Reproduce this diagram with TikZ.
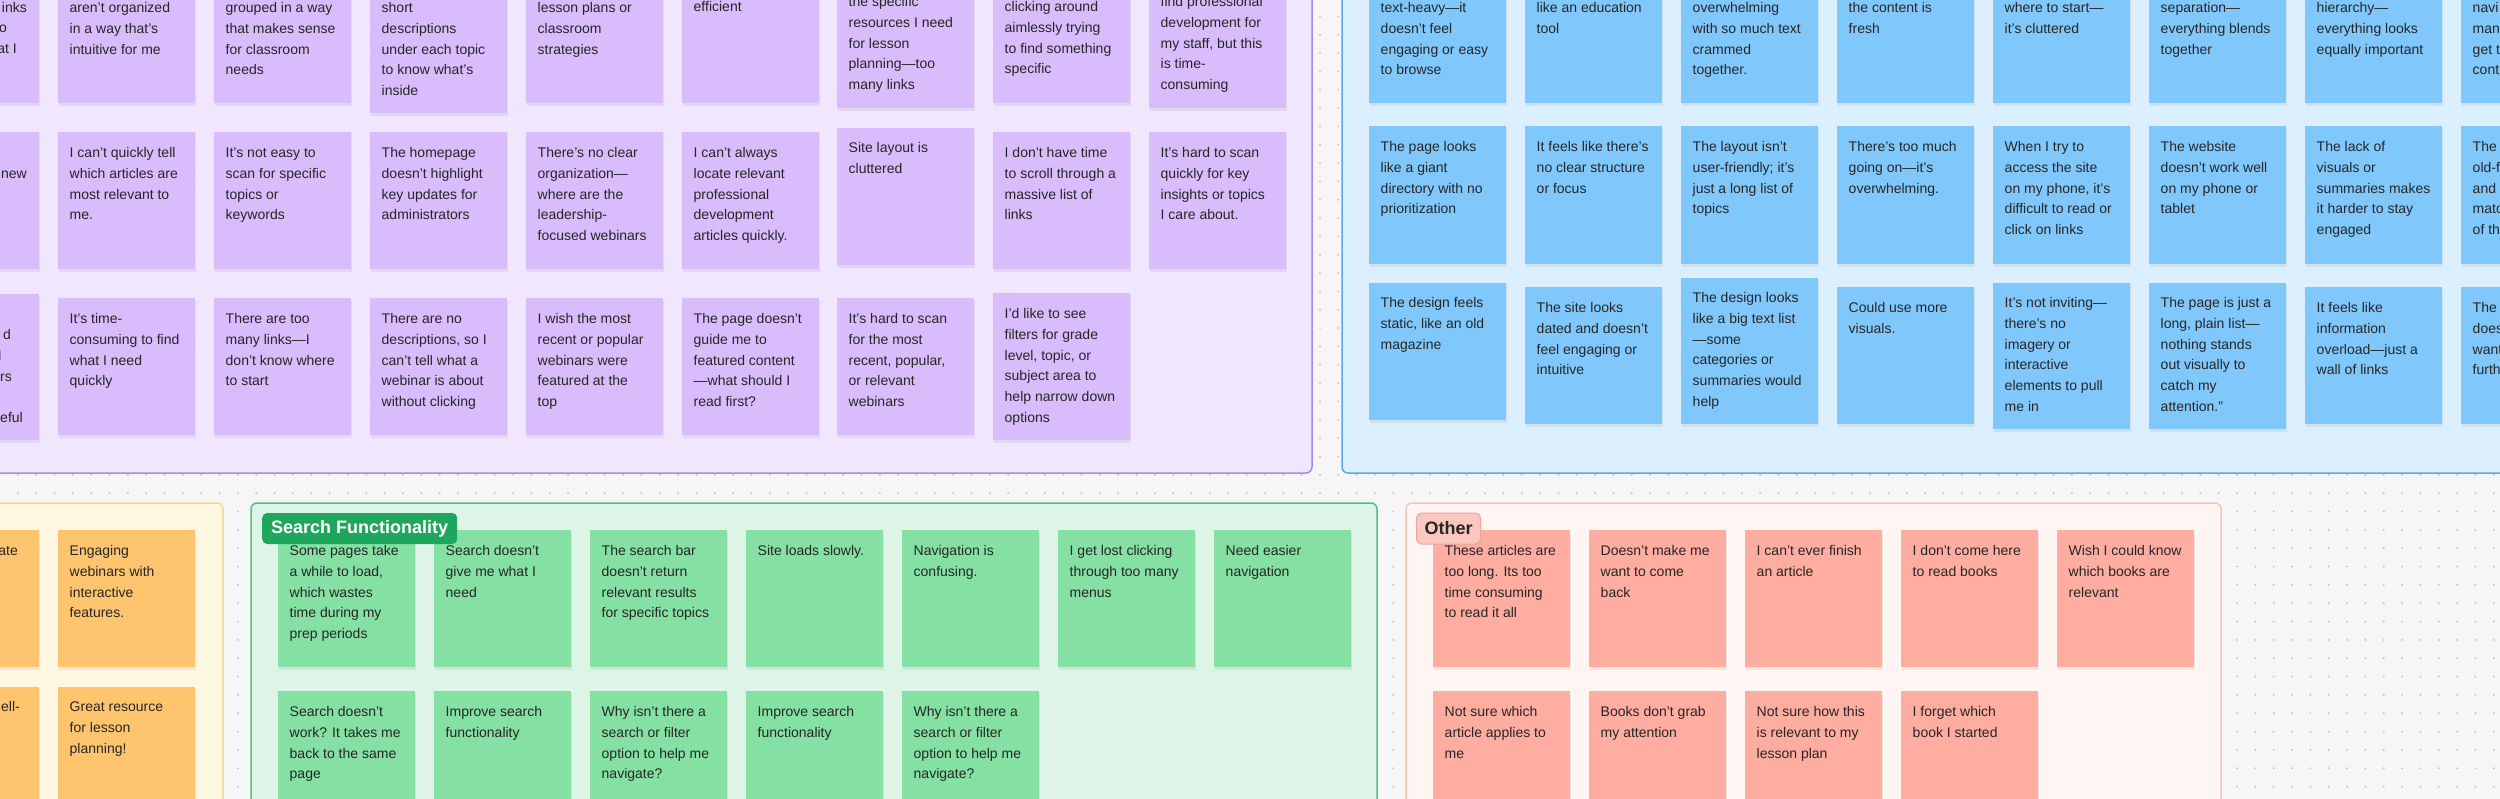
\documentclass[tikz,border=0pt]{standalone}
\usepackage{fontspec}
\setmainfont{Liberation Sans}
\definecolor{bgc}{HTML}{F6F6F6}
\definecolor{dotc}{HTML}{C4C4C4}
\definecolor{textc}{HTML}{262626}
\definecolor{psec}{HTML}{F0E6FE}
\definecolor{pbrd}{HTML}{A58AF0}
\definecolor{pst}{HTML}{D9BCFB}
\definecolor{bsec}{HTML}{DCEFFF}
\definecolor{bbrd}{HTML}{5AA9E6}
\definecolor{bst}{HTML}{80C8FC}
\definecolor{ysec}{HTML}{FFF7E2}
\definecolor{ybrd}{HTML}{F5D982}
\definecolor{yst}{HTML}{FEC56E}
\definecolor{gsec}{HTML}{DEF4E6}
\definecolor{gbrd}{HTML}{4FC182}
\definecolor{gst}{HTML}{85E0A3}
\definecolor{glab}{HTML}{1EA65C}
\definecolor{osec}{HTML}{FFF5F2}
\definecolor{obrd}{HTML}{F9C3BB}
\definecolor{ost}{HTML}{FEADA0}
\definecolor{olab}{HTML}{FCC7C0}
\definecolor{olabbrd}{HTML}{EBA59C}
\tikzset{
  note/.style={anchor=north west, inner sep=0pt, minimum width=137pt, draw=none},
  txt/.style={anchor=north west, inner sep=0pt, align=left, text=textc,
    font=\fontsize{14pt}{20.67pt}\selectfont},
  frag/.style={anchor=base east, inner sep=0pt, text=textc,
    font=\fontsize{14pt}{20.67pt}\selectfont},
  section/.style={line width=1.5pt, rounded corners=6pt},
  lab/.style={anchor=west, inner xsep=9pt, inner ysep=0pt, minimum height=31pt,
    rounded corners=5pt, font=\bfseries\fontsize{18pt}{20pt}\selectfont},
  shadowbox/.style={fill=black, opacity=0.06}
}
\newcommand{\sticky}[7]{%
  \fill[shadowbox] (#3+1,#4+2) rectangle (#3+138,#5+3);
  \node[note, fill=#2, minimum height={(#5-(#4))*1pt}] (#1) at (#3,#4) {};
  \node[txt] (#1t) at (#3+11.5,#6-10.4) {\rule{0pt}{14pt}#7};
}
\begin{document}
\begin{tikzpicture}[x=1pt,y=-1pt]
\useasboundingbox (0,0) rectangle (2500,799);
\clip (0,0) rectangle (2500,799);
\fill[bgc] (0,0) rectangle (2500,799);
\foreach \i in {0,...,136}{\foreach \j in {0,...,43}{\fill[dotc] ({-0.5+18.34*\i},{-2+18.34*\j}) circle (1.1pt);}}

% sections
\draw[section, fill=psec, draw=pbrd] (-30,-30) rectangle (1312,473);
\draw[section, fill=bsec, draw=bbrd] (1342,-30) rectangle (2540,473);
\draw[section, fill=ysec, draw=ybrd] (-30,503) rectangle (223,840);
\draw[section, fill=gsec, draw=gbrd] (251,503) rectangle (1377,840);
\draw[section, fill=osec, draw=obrd] (1406,503) rectangle (2221,840);

% purple row 1
\sticky{pA1}{pst}{-98}{-200}{103}{9}{}
\sticky{pB1}{pst}{58}{-200}{103}{9}{aren't organized\\in a way that's\\intuitive for me}
\sticky{pC1}{pst}{214}{-200}{103}{9}{grouped in a way\\that makes sense\\for classroom\\needs}
\sticky{pD1}{pst}{370}{-200}{113}{9}{short\\descriptions\\under each topic\\to know what's\\inside}
\sticky{pE1}{pst}{526}{-200}{103}{9}{lesson plans or\\classroom\\strategies}
\sticky{pF1}{pst}{682}{-200}{103}{8}{efficient}
\sticky{pG1}{pst}{837}{-200}{108}{3}{the specific\\resources I need\\for lesson\\planning---too\\many links}
\sticky{pH1}{pst}{993}{-200}{103}{8}{clicking around\\aimlessly trying\\to find something\\specific}
\sticky{pI1}{pst}{1149}{-200}{108}{3}{find professional\\development for\\my staff, but this\\is time-\\consuming}
% purple row 2
\sticky{pA2}{pst}{-98}{132}{269}{154}{}
\sticky{pB2}{pst}{58}{132}{269}{154}{I can't quickly tell\\which articles are\\most relevant to\\me.}
\sticky{pC2}{pst}{214}{132}{269}{154}{It's not easy to\\scan for specific\\topics or\\keywords}
\sticky{pD2}{pst}{370}{132}{269}{154}{The homepage\\doesn't highlight\\key updates for\\administrators}
\sticky{pE2}{pst}{526}{132}{269}{154}{There's no clear\\organization---\\where are the\\leadership-\\focused webinars}
\sticky{pF2}{pst}{682}{132}{269}{154}{I can't always\\locate relevant\\professional\\development\\articles quickly.}
\sticky{pG2}{pst}{837}{128}{265}{149}{Site layout is\\cluttered}
\sticky{pH2}{pst}{993}{132}{269}{154}{I don't have time\\to scroll through a\\massive list of\\links}
\sticky{pI2}{pst}{1149}{132}{269}{154}{It's hard to scan\\quickly for key\\insights or topics\\I care about.}
% purple row 3
\sticky{pA3}{pst}{-98}{294}{440}{316}{}
\sticky{pB3}{pst}{58}{298}{435}{320}{It's time-\\consuming to find\\what I need\\quickly}
\sticky{pC3}{pst}{214}{298}{435}{320}{There are too\\many links---I\\don't know where\\to start}
\sticky{pD3}{pst}{370}{298}{435}{320}{There are no\\descriptions, so I\\can't tell what a\\webinar is about\\without clicking}
\sticky{pE3}{pst}{526}{298}{435}{320}{I wish the most\\recent or popular\\webinars were\\featured at the\\top}
\sticky{pF3}{pst}{682}{298}{435}{320}{The page doesn't\\guide me to\\featured content\\---what should I\\read first?}
\sticky{pG3}{pst}{837}{298}{435}{320}{It's hard to scan\\for the most\\recent, popular,\\or relevant\\webinars}
\sticky{pH3}{pst}{993}{293}{440}{315}{I'd like to see\\filters for grade\\level, topic, or\\subject area to\\help narrow down\\options}
% purple partial column fragments
\node[frag] (fa1) at (27,9+3.6) {inks};
\node[frag] (fa2) at (7,29+3.6) {o};
\node[frag] (fa3) at (17,50+3.6) {at I};
\node[frag] (fa4) at (27,175+3.6) {new};
\node[frag] (fa5) at (11,336+3.6) {d};
\node[frag] (fa6) at (2,357+3.6) {I};
\node[frag] (fa7) at (12,378+3.6) {rs};
\node[frag] (fa8) at (23,419+3.6) {eful};

% blue row 1
\sticky{bA1}{bst}{1369}{-200}{103}{9}{text-heavy---it\\doesn't feel\\engaging or easy\\to browse}
\sticky{bB1}{bst}{1525}{-200}{103}{9}{like an education\\tool}
\sticky{bC1}{bst}{1681}{-200}{103}{9}{overwhelming\\with so much text\\crammed\\together.}
\sticky{bD1}{bst}{1837}{-200}{103}{9}{the content is\\fresh}
\sticky{bE1}{bst}{1993}{-200}{103}{9}{where to start---\\it's cluttered}
\sticky{bF1}{bst}{2149}{-200}{103}{9}{separation---\\everything blends\\together}
\sticky{bG1}{bst}{2305}{-200}{103}{9}{hierarchy---\\everything looks\\equally important}
\sticky{bH1}{bst}{2461}{-200}{103}{9}{navi\\man\\get t\\cont}
% blue row 2
\sticky{bA2}{bst}{1369}{126}{264}{148}{The page looks\\like a giant\\directory with no\\prioritization}
\sticky{bB2}{bst}{1525}{126}{264}{148}{It feels like there's\\no clear structure\\or focus}
\sticky{bC2}{bst}{1681}{126}{264}{148}{The layout isn't\\user-friendly; it's\\just a long list of\\topics}
\sticky{bD2}{bst}{1837}{126}{264}{148}{There's too much\\going on---it's\\overwhelming.}
\sticky{bE2}{bst}{1993}{126}{264}{148}{When I try to\\access the site\\on my phone, it's\\difficult to read or\\click on links}
\sticky{bF2}{bst}{2149}{126}{264}{148}{The website\\doesn't work well\\on my phone or\\tablet}
\sticky{bG2}{bst}{2305}{126}{264}{148}{The lack of\\visuals or\\summaries makes\\it harder to stay\\engaged}
\sticky{bH2}{bst}{2461}{126}{264}{148}{The\\old-f\\and\\matc\\of th}
% blue row 3
\sticky{bA3}{bst}{1369}{283}{420}{304}{The design feels\\static, like an old\\magazine}
\sticky{bB3}{bst}{1525}{287}{424}{309}{The site looks\\dated and doesn't\\feel engaging or\\intuitive}
\sticky{bC3}{bst}{1681}{278}{424}{299}{The design looks\\like a big text list\\---some\\categories or\\summaries would\\help}
\sticky{bD3}{bst}{1837}{287}{424}{309}{Could use more\\visuals.}
\sticky{bE3}{bst}{1993}{283}{429}{304}{It's not inviting---\\there's no\\imagery or\\interactive\\elements to pull\\me in}
\sticky{bF3}{bst}{2149}{283}{429}{304}{The page is just a\\long, plain list---\\nothing stands\\out visually to\\catch my\\attention.''}
\sticky{bG3}{bst}{2305}{287}{424}{309}{It feels like\\information\\overload---just a\\wall of links}
\sticky{bH3}{bst}{2461}{287}{424}{309}{The\\does\\want\\furth}

% yellow
\sticky{yA1}{yst}{-98}{530}{667}{552}{}
\sticky{yB1}{yst}{58}{530}{667}{552}{Engaging\\webinars with\\interactive\\features.}
\sticky{yA2}{yst}{-98}{687}{900}{708}{}
\sticky{yB2}{yst}{58}{687}{900}{708}{Great resource\\for lesson\\planning!}
\node[frag] (fy1) at (18,552+3.6) {ate};
\node[frag] (fy2) at (20,708+3.6) {ell-};

% green
\sticky{g1}{gst}{278}{530}{667}{552}{Some pages take\\a while to load,\\which wastes\\time during my\\prep periods}
\sticky{g2}{gst}{434}{530}{667}{552}{Search doesn't\\give me what I\\need}
\sticky{g3}{gst}{590}{530}{667}{552}{The search bar\\doesn't return\\relevant results\\for specific topics}
\sticky{g4}{gst}{746}{530}{667}{552}{Site loads slowly.}
\sticky{g5}{gst}{902}{530}{667}{552}{Navigation is\\confusing.}
\sticky{g6}{gst}{1058}{530}{667}{552}{I get lost clicking\\through too many\\menus}
\sticky{g7}{gst}{1214}{530}{667}{552}{Need easier\\navigation}
\sticky{g8}{gst}{278}{691}{900}{713}{Search doesn't\\work? It takes me\\back to the same\\page}
\sticky{g9}{gst}{434}{691}{900}{713}{Improve search\\functionality}
\sticky{g10}{gst}{590}{691}{900}{713}{Why isn't there a\\search or filter\\option to help me\\navigate?}
\sticky{g11}{gst}{746}{691}{900}{713}{Improve search\\functionality}
\sticky{g12}{gst}{902}{691}{900}{713}{Why isn't there a\\search or filter\\option to help me\\navigate?}
\node[lab, fill=glab, text=white] (sflab) at (262,528.5) {Search Functionality};

% other
\sticky{o1}{ost}{1433}{530}{667}{552}{These articles are\\too long. Its too\\time consuming\\to read it all}
\sticky{o2}{ost}{1589}{530}{667}{552}{Doesn't make me\\want to come\\back}
\sticky{o3}{ost}{1745}{530}{667}{552}{I can't ever finish\\an article}
\sticky{o4}{ost}{1901}{530}{667}{552}{I don't come here\\to read books}
\sticky{o5}{ost}{2057}{530}{667}{552}{Wish I could know\\which books are\\relevant}
\sticky{o6}{ost}{1433}{691}{900}{713}{Not sure which\\article applies to\\me}
\sticky{o7}{ost}{1589}{691}{900}{713}{Books don't grab\\my attention}
\sticky{o8}{ost}{1745}{691}{900}{713}{Not sure how this\\is relevant to my\\lesson plan}
\sticky{o9}{ost}{1901}{691}{900}{713}{I forget which\\book I started}
\node[lab, fill=olab, draw=olabbrd, line width=1pt, text=textc, inner xsep=8pt] (olab) at (1416,528.5) {Other};
\end{tikzpicture}
\end{document}
